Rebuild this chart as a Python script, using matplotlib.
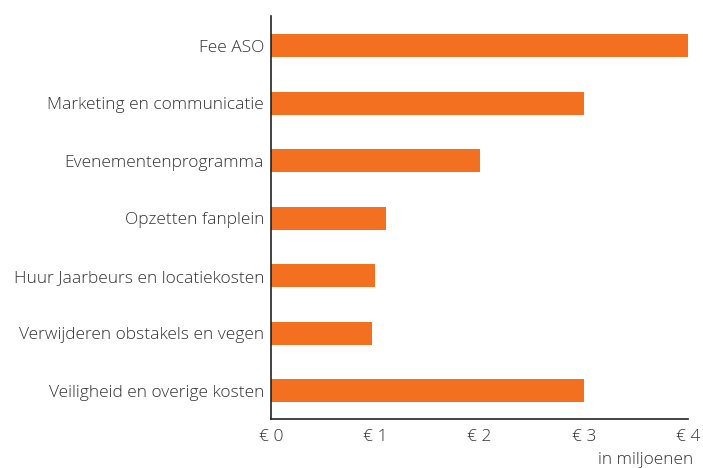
import matplotlib

matplotlib.use("Agg")
import matplotlib.pyplot as plt

categories = [
    "Fee ASO",
    "Marketing en communicatie",
    "Evenementenprogramma",
    "Opzetten fanplein",
    "Huur Jaarbeurs en locatiekosten",
    "Verwijderen obstakels en vegen",
    "Veiligheid en overige kosten",
]
values = [4.0, 3.0, 2.0, 1.1, 1.0, 0.97, 3.0]
tick_values = [0, 1, 2, 3, 4]
tick_labels = ["€ 0", "€ 1", "€ 2", "€ 3", "€ 4"]

plt.rcParams["font.family"] = ["Open Sans", "DejaVu Sans"]
text_color = "#333333"
fsize = 12.5

fig = plt.figure(figsize=(7.03, 4.68), dpi=100)
ax = fig.add_axes([271 / 703, 1 - 419 / 468, 417 / 703, 403 / 468])

ax.barh(range(len(categories)), values, height=0.4, color="#F37021")
ax.set_yticks(range(len(categories)))
ax.set_yticklabels(categories, fontsize=fsize, color=text_color, fontweight="light")
ax.set_xticks(tick_values)
ax.set_xticklabels(tick_labels, fontsize=fsize, color=text_color, fontweight="light")
ax.set_xlim(0, 4)
ax.set_ylim(6.49, -0.52)
ax.tick_params(axis="y", length=0, pad=5)
ax.tick_params(axis="x", length=0, pad=7)
ax.spines["top"].set_visible(False)
ax.spines["right"].set_visible(False)
ax.spines["left"].set_color("#222222")
ax.spines["bottom"].set_color("#222222")
ax.spines["left"].set_linewidth(1.2)
ax.spines["bottom"].set_linewidth(1.2)

fig.text(693 / 703, 1 - 460 / 468, "in miljoenen", ha="right", va="center",
         fontsize=fsize, color=text_color, fontweight="light")

fig.savefig("out.png", dpi=100)
